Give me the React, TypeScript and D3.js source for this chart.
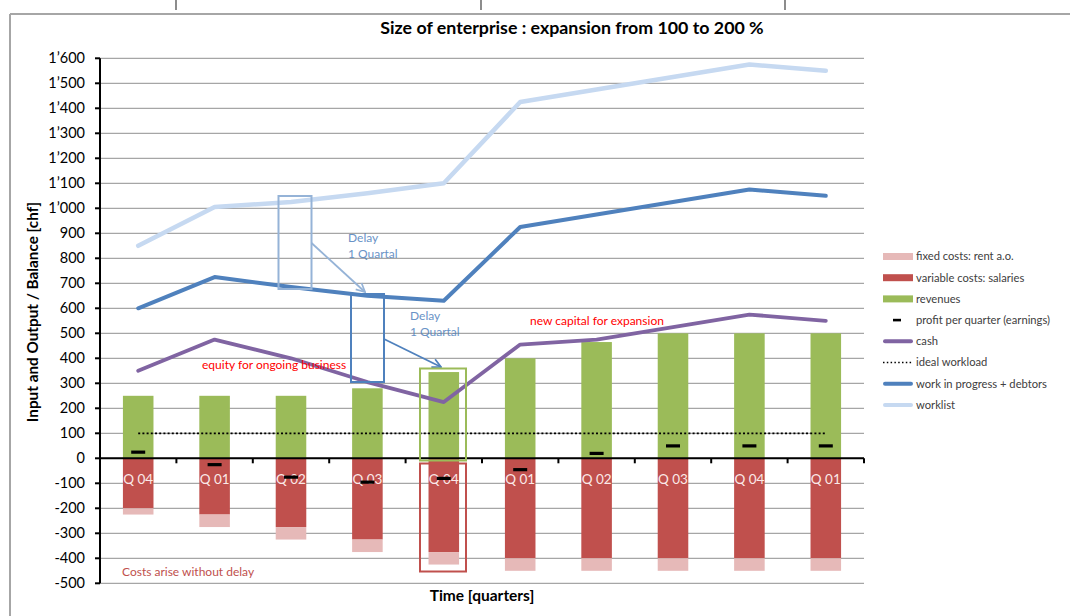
import * as d3 from "d3";

const quarters = ["Q 04", "Q 01", "Q 02", "Q 03", "Q 04", "Q 01", "Q 02", "Q 03", "Q 04", "Q 01"];
const revenues = [250, 250, 250, 280, 345, 400, 465, 500, 500, 500];
const variableCosts = [-200, -225, -275, -325, -375, -400, -400, -400, -400, -400];
const fixedCosts = [-25, -50, -50, -50, -50, -50, -50, -50, -50, -50];
const profit = [25, -25, -75, -95, -80, -45, 20, 50, 50, 50];
const cash = [350, 475, 400, 305, 225, 455, 475, 525, 575, 550];
const idealWorkload = [100, 100, 100, 100, 100, 100, 100, 100, 100, 100];
const wip = [600, 725, 685, 650, 630, 925, 975, 1025, 1075, 1050];
const worklist = [850, 1005, 1025, 1060, 1100, 1425, 1475, 1525, 1575, 1550];
const yTicks = [-500, -400, -300, -200, -100, 0, 100, 200, 300, 400, 500, 600, 700, 800, 900, 1000, 1100, 1200, 1300, 1400, 1500, 1600];

const legendItems = [
  { label: "fixed costs: rent a.o.", kind: "bar", color: "#E6B9B8" },
  { label: "variable costs: salaries", kind: "bar", color: "#C0504D" },
  { label: "revenues", kind: "bar", color: "#9BBB59" },
  { label: "profit per quarter (earnings)", kind: "dash", color: "#000" },
  { label: "cash", kind: "line", color: "#8064A2" },
  { label: "ideal workload", kind: "dot", color: "#000" },
  { label: "work in progress + debtors", kind: "line", color: "#4F81BD" },
  { label: "worklist", kind: "line", color: "#C6D9F1" },
];

const FONT = "Lato, 'Open Sans', sans-serif";

export default function App() {
  const left = 100, right = 864;
  const x = d3.scaleBand<number>().domain(d3.range(10)).range([left, right]).paddingInner(0.6).paddingOuter(0.3);
  const y = d3.scaleLinear().domain([-500, 1600]).range([583.3, 58.3]);
  const bw = x.bandwidth();
  const cx = (i: number) => (x(i) as number) + bw / 2;
  const step = x.step();

  const line = d3.line<number>().x((_, i) => cx(i)).y((d) => y(d));

  const fmt = (v: number) => {
    const s = d3.format(",")(v);
    return s.replace(/,/g, "\u2019").replace("\u2212", "-");
  };

  return (
    <svg width={1070} height={616} style={{ position: "absolute", left: 0, top: 0, fontFamily: FONT }}>
      <rect x={0} y={0} width={1070} height={616} fill="#fff" />
      {/* outer frame fragments */}
      <line x1={10} x2={1070} y1={14} y2={14} stroke="#A6A6A6" strokeWidth={2} />
      <line x1={10} x2={10} y1={14} y2={616} stroke="#A6A6A6" strokeWidth={2} />
      {[176, 481, 785].map((t) => (
        <line key={t} x1={t} x2={t} y1={0} y2={10} stroke="#404040" strokeWidth={1.2} />
      ))}

      <text x={572} y={34} textAnchor="middle" fontSize={17.8} fontWeight="bold" fill="#000">
        Size of enterprise : expansion from 100 to 200 %
      </text>

      {/* gridlines */}
      {yTicks.map((t) => (
        <line key={t} x1={left} x2={right} y1={y(t)} y2={y(t)} stroke="#A6A6A6" strokeWidth={1.3} />
      ))}

      {/* bars */}
      {revenues.map((v, i) => (
        <rect key={"r" + i} x={x(i)} y={y(v)} width={bw} height={y(0) - y(v)} fill="#9BBB59" />
      ))}
      {variableCosts.map((v, i) => (
        <rect key={"v" + i} x={x(i)} y={y(0)} width={bw} height={y(v) - y(0)} fill="#C0504D" />
      ))}
      {fixedCosts.map((v, i) => (
        <rect key={"f" + i} x={x(i)} y={y(variableCosts[i])} width={bw} height={y(variableCosts[i] + v) - y(variableCosts[i])} fill="#E6B9B8" />
      ))}

      {/* y axis */}
      <line x1={left} x2={left} y1={y(1600)} y2={y(-500)} stroke="#000" strokeWidth={2} />
      {yTicks.map((t) => (
        <g key={"t" + t}>
          <line x1={left - 5} x2={left} y1={y(t)} y2={y(t)} stroke="#000" strokeWidth={2} />
          <text x={left - 15} y={y(t)} dy="0.35em" textAnchor="end" fontSize={14.5} fill="#000">
            {fmt(t)}
          </text>
        </g>
      ))}

      {/* x axis at zero */}
      <line x1={left} x2={right} y1={y(0)} y2={y(0)} stroke="#000" strokeWidth={2} />
      {d3.range(11).map((i) => (
        <line key={"xt" + i} x1={left + i * step} x2={left + i * step} y1={y(0)} y2={y(0) + 5} stroke="#000" strokeWidth={2} />
      ))}
      {quarters.map((q, i) => (
        <text key={"q" + i} x={cx(i)} y={y(0) + 26} textAnchor="middle" fontSize={13.5} fill="#FBE9E8">
          {q}
        </text>
      ))}

      {/* ideal workload */}
      <path d={line(idealWorkload) as string} fill="none" stroke="#000" strokeWidth={1.8} strokeDasharray="2,2.2" />

      {/* lines */}
      <path d={line(worklist) as string} fill="none" stroke="#C6D9F1" strokeWidth={4.5} strokeLinejoin="round" strokeLinecap="round" />
      <path d={line(wip) as string} fill="none" stroke="#4F81BD" strokeWidth={4} strokeLinejoin="round" strokeLinecap="round" />
      <path d={line(cash) as string} fill="none" stroke="#8064A2" strokeWidth={3.8} strokeLinejoin="round" strokeLinecap="round" />

      {/* profit dashes */}
      {profit.map((v, i) => (
        <rect key={"p" + i} x={cx(i) - 7} y={y(v) - 1.5} width={14} height={3.2} fill="#000" />
      ))}

      {/* annotations */}
      <defs>
        <marker id="ahLight" viewBox="0 0 10 10" refX={9} refY={5} markerWidth={6} markerHeight={6} orient="auto">
          <path d="M1,1 L9,5 L1,9" fill="none" stroke="#95B3D7" strokeWidth={1.6} />
        </marker>
        <marker id="ahDark" viewBox="0 0 10 10" refX={9} refY={5} markerWidth={6} markerHeight={6} orient="auto">
          <path d="M1,1 L9,5 L1,9" fill="none" stroke="#4F81BD" strokeWidth={1.6} />
        </marker>
      </defs>
      <rect x={278.5} y={196} width={33} height={93} fill="none" stroke="#95B3D7" strokeWidth={2} />
      <line x1={311.5} y1={243} x2={365} y2={292} stroke="#95B3D7" strokeWidth={1.8} markerEnd="url(#ahLight)" />
      <text x={348} y={242} fontSize={12} fill="#4F81BD" opacity={0.85}>Delay</text>
      <text x={348} y={258} fontSize={12} fill="#4F81BD" opacity={0.85}>1 Quartal</text>

      <rect x={351} y={294} width={33} height={88} fill="none" stroke="#4F81BD" strokeWidth={2} />
      <line x1={384} y1={339} x2={441} y2={367} stroke="#4F81BD" strokeWidth={1.8} markerEnd="url(#ahDark)" />
      <text x={410} y={320} fontSize={12} fill="#4F81BD" opacity={0.85}>Delay</text>
      <text x={410} y={336} fontSize={12} fill="#4F81BD" opacity={0.85}>1 Quartal</text>

      <rect x={420} y={368.5} width={46} height={92} fill="none" stroke="#9BBB59" strokeWidth={2} />
      <rect x={420} y={463.5} width={46} height={108} fill="none" stroke="#C0504D" strokeWidth={2} />

      <text x={202} y={369} fontSize={12} fill="#FF0000">equity for ongoing business</text>
      <text x={530} y={325} fontSize={12} fill="#FF0000">new capital for expansion</text>
      <text x={122} y={576} fontSize={12} fill="#C0504D">Costs arise without delay</text>

      {/* axis titles */}
      <text transform="translate(38,312) rotate(-90)" textAnchor="middle" fontSize={15.3} fontWeight="bold" fill="#000">
        Input and Output / Balance [chf]
      </text>
      <text x={482} y={601} textAnchor="middle" fontSize={15.5} fontWeight="bold" fill="#000">
        Time [quarters]
      </text>

      {/* legend */}
      {legendItems.map((d, i) => {
        const ly = 256.5 + i * 21.2;
        return (
          <g key={d.label}>
            {d.kind === "bar" && <rect x={883} y={ly - 3.5} width={30} height={7} fill={d.color} />}
            {d.kind === "line" && <line x1={885} x2={911} y1={ly} y2={ly} stroke={d.color} strokeWidth={4} strokeLinecap="round" />}
            {d.kind === "dash" && <rect x={893} y={ly - 1.3} width={8} height={2.6} fill={d.color} />}
            {d.kind === "dot" && <line x1={883} x2={913} y1={ly} y2={ly} stroke={d.color} strokeWidth={1.5} strokeDasharray="1.5,2.3" />}
            <text x={916} y={ly} dy="0.35em" fontSize={11.2} fill="#404040">
              {d.label}
            </text>
          </g>
        );
      })}
    </svg>
  );
}
